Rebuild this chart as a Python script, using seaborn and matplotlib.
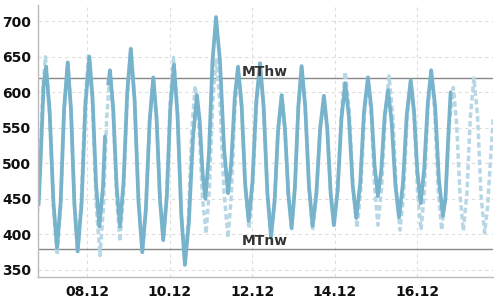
import numpy as np
import pandas as pd
import matplotlib
matplotlib.use("Agg")
import matplotlib.pyplot as plt
import matplotlib.dates as mdates
import seaborn as sns

# Measured water level: hours after 08.12 00:00 and level, read off the chart
# (extremes plus points on the flanks; NaN marks the short gap in the record)
measured_hours = [-28.3, -26.9, -25.4, -24.0,
                  -21.9, -19.7, -17.6, -15.5, -13.5, -11.4, -9.5, -7.5, -5.6,
                  -3.3, -1.1, 1.2, 3.1, 5.1, 7.0,
                  9.1, 10.3, 11.2, 12.2, 13.2,
                  15.1, 17.1, 19.0, 21.1, 23.2, 25.3, 27.5, 29.8, 32.0,
                  34.1, 36.3, 38.4, 40.3, 42.3, 44.2, 46.3, 48.3, 50.4,
                  52.5, 54.7, 56.8, 59.1, 61.5, 63.8, 65.4, 67.1, 68.7,
                  70.8, 72.8, 74.9, 77.2, 79.6, 81.9, 83.8, 85.8, 87.7,
                  89.8, 91.8, 93.9, 96.1, 98.3, 100.5, 102.6, 104.8, 106.9,
                  109.0, 111.0, 113.1, 115.0, 117.0, 118.9, 120.8, 122.8, 124.7,
                  126.8, 129.0, 131.1, 133.3, 135.5, 137.7, 139.6, 141.6, 143.5,
                  145.7, 147.9, 150.1, 152.2, 154.4, 156.5, 158.8, 161.0, 163.3,
                  165.2, 167.2, 169.1, 171.1, 173.0, 175.0, 177.1, 179.3, 181.4,
                  183.7, 185.9, 188.2, 190.1, 192.1, 194.0, 196.0, 198.1, 200.1,
                  202.4, 204.6, 206.9,
                  208.4, 209.9, 211.4]
measured_level = [442, 520, 611, 636,
                  572, 445, 381, 446, 577, 642, 576, 443, 376,
                  444, 582, 650, 590, 471, 411,
                  466, 538, np.nan, 612, 631,
                  576, 466, 411, 474, 598, 661, 590, 446, 375,
                  436, 560, 621, 564, 449, 392, 454, 577, 639,
                  568, 428, 357, 417, 536, 596, 560, 486, 450,
                  514, 642, 706, 644, 520, 458, 502, 592, 636,
                  582, 473, 419, 474, 586, 641, 580, 458, 397,
                  447, 546, 596, 549, 456, 409, 466, 580, 637,
                  581, 468, 412, 458, 549, 595, 550, 458, 413,
                  463, 563, 613, 566, 470, 423, 472, 572, 621,
                  579, 496, 454, 491, 566, 603, 558, 469, 424,
                  472, 569, 617, 574, 487, 444, 491, 584, 631,
                  580, 477, 426,
                  450, 530, 600]

# Predicted water level
predicted_hours = [-29.0, -27.4, -25.8, -24.3,
                   -22.1, -19.8, -17.6, -15.5, -13.5, -11.4, -9.5, -7.5, -5.6,
                   -3.5, -1.3, 0.8, 3.0, 5.2, 7.4,
                   9.3, 11.3, 13.2, 15.1, 17.1, 19.0, 21.1, 23.2, 25.3,
                   27.5, 29.8, 32.0, 34.1, 36.3, 38.4, 40.3, 42.3, 44.2,
                   46.2, 48.2, 50.2, 52.4, 54.6, 56.8, 58.8, 60.8, 62.8,
                   64.9, 67.0, 69.1, 71.0, 73.0, 74.9, 77.2, 79.6, 81.9,
                   83.8, 85.8, 87.7, 89.8, 92.0, 94.1, 96.2, 98.4, 100.5,
                   102.6, 104.8, 106.9, 109.0, 111.0, 113.1, 115.0, 117.0, 118.9,
                   120.8, 122.8, 124.7, 126.8, 129.0, 131.1, 133.3, 135.5, 137.7,
                   139.6, 141.6, 143.5, 145.7, 147.9, 150.1, 152.4, 154.7, 157.0,
                   159.1, 161.2, 163.3, 165.2, 167.2, 169.1, 171.3, 173.4, 175.6,
                   177.7, 179.9, 182.0, 184.1, 186.1, 188.2, 190.2, 192.2, 194.2,
                   196.2, 198.1, 200.1, 202.1, 204.2, 206.2, 208.5, 210.7, 213.0,
                   214.9, 216.9, 218.8, 220.9, 222.9, 225.0, 227.1, 229.1, 231.2,
                   233.0, 234.6, 236.2]
predicted_level = [430, 510, 610, 650,
                   580, 441, 371, 439, 574, 642, 576, 443, 376,
                   446, 585, 655, 584, 441, 370,
                   434, 564, 628, 568, 450, 390, 458, 594, 662,
                   590, 447, 375, 436, 560, 621, 564, 449, 392,
                   456, 585, 649, 577, 432, 360, 422, 547, 609,
                   557, 453, 401, 463, 586, 648, 585, 458, 395,
                   455, 574, 634, 578, 464, 408, 466, 580, 638,
                   578, 457, 397, 447, 548, 598, 550, 456, 408,
                   465, 578, 635, 578, 463, 406, 454, 549, 597,
                   550, 458, 411, 466, 574, 629, 574, 464, 409,
                   462, 568, 621, 569, 465, 413, 466, 570, 623,
                   569, 460, 406, 459, 564, 617, 564, 459, 406,
                   462, 575, 631, 575, 462, 406, 456, 557, 607,
                   556, 456, 405, 459, 566, 620, 566, 456, 402,
                   440, 505, 562]

mean_high = 620
mean_low = 380
x_tick_days = [8, 10, 12, 14, 16]
y_ticks = [350, 400, 450, 500, 550, 600, 650, 700]

base = pd.Timestamp("2024-12-08 00:00")
meas = pd.DataFrame({"time": base + pd.to_timedelta(measured_hours, unit="h"),
                     "level": measured_level})
meas["seg"] = meas["level"].isna().cumsum()
meas = meas.dropna()
pred = pd.DataFrame({"time": base + pd.to_timedelta(predicted_hours, unit="h"),
                     "level": predicted_level})

sns.set_style("white")
plt.rcParams["font.family"] = ["DejaVu Sans"]

fig = plt.figure(figsize=(5, 3), dpi=100)
ax = fig.add_axes([38 / 500, 1 - 277 / 300, (492.7 - 38) / 500, (277 - 5) / 300])

ax.grid(True, color="#dddddd", linestyle=(0, (3, 3)), linewidth=0.8)
ax.set_axisbelow(True)

sns.lineplot(data=pred, x="time", y="level", ax=ax, color="#b8d7e5", linewidth=2.5,
             linestyle=(0, (1.6, 0.9)), sort=True, legend=False)
sns.lineplot(data=meas, x="time", y="level", units="seg", estimator=None, ax=ax,
             color="#78b3cc", linewidth=2.7, legend=False)

ax.axhline(mean_high, color="#888888", linewidth=1.0, zorder=1)
ax.axhline(mean_low, color="#888888", linewidth=1.0, zorder=1)
tr = ax.get_yaxis_transform()
ax.annotate("MThw", xy=(0.4487, mean_high), xycoords=tr, xytext=(0, 1.5),
            textcoords="offset points", va="baseline", ha="left",
            fontsize=10, fontweight="bold", color="#333333")
ax.annotate("MTnw", xy=(0.4487, mean_low), xycoords=tr, xytext=(0, 2.5),
            textcoords="offset points", va="baseline", ha="left",
            fontsize=10, fontweight="bold", color="#333333")

ax.set_xlim(pd.Timestamp("2024-12-06 19:19"), pd.Timestamp("2024-12-17 19:54"))
ax.set_ylim(340, 723)
ax.set_yticks(y_ticks)
ax.xaxis.set_major_locator(mdates.DayLocator(bymonthday=x_tick_days))
ax.xaxis.set_major_formatter(mdates.DateFormatter("%d.%m"))
ax.set_xlabel("")
ax.set_ylabel("")

for s in ["top", "right"]:
    ax.spines[s].set_visible(False)
for s in ["left", "bottom"]:
    ax.spines[s].set_color("#bbbbbb")
    ax.spines[s].set_linewidth(1.0)

ax.tick_params(axis="x", length=3, color="#999999", pad=2.5, labelsize=10, labelcolor="#111111")
ax.tick_params(axis="y", length=0, pad=5, labelsize=10, labelcolor="#111111")
for lab in ax.get_xticklabels() + ax.get_yticklabels():
    lab.set_fontweight("bold")

fig.savefig("out.png", dpi=100)
